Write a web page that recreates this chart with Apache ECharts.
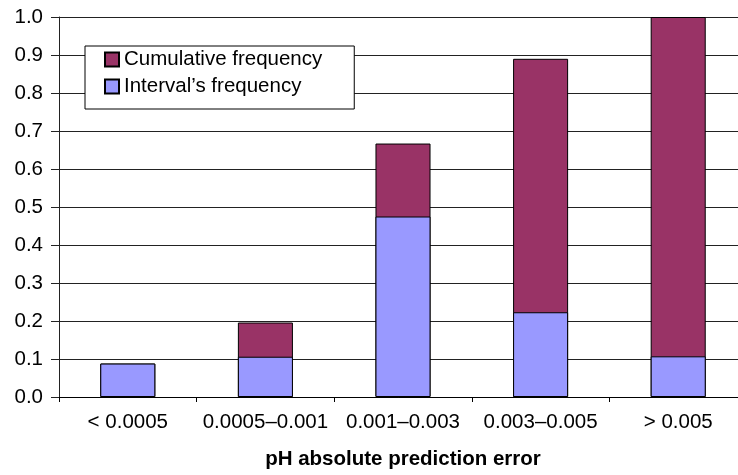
<!DOCTYPE html>
<html><head><meta charset="utf-8">
<script src="https://cdn.jsdelivr.net/npm/echarts@6/dist/echarts.min.js"></script>
<style>html,body{margin:0;padding:0;background:#fff}#c{width:738px;height:475px}</style>
</head><body><div id="c"></div>
<script>
const categories = ['< 0.0005', '0.0005\u20130.001', '0.001\u20130.003', '0.003\u20130.005', '> 0.005'];
const cumulativeFreq = [0.088, 0.196, 0.667, 0.890, 1.0];
const intervalFreq = [0.088, 0.106, 0.475, 0.223, 0.107];
const yTicks = [0, 0.1, 0.2, 0.3, 0.4, 0.5, 0.6, 0.7, 0.8, 0.9, 1.0];
const seriesNames = ['Cumulative frequency', "Interval\u2019s frequency"];
const xTitle = 'pH absolute prediction error';

const font = 'Liberation Sans, Arial, Helvetica, sans-serif';
const chart = echarts.init(document.getElementById('c'), null, {renderer: 'canvas'});
chart.setOption({
  animation: false,
  backgroundColor: '#fff',
  textStyle: {fontFamily: font},
  grid: {left: 59, top: 17, height: 380, width: 688, outerBoundsMode: 'none', containLabel: false},
  legend: {
    orient: 'vertical', left: 85, top: 46,
    data: seriesNames,
    backgroundColor: '#fff', borderColor: '#000', borderWidth: 1,
    padding: [3, 32, 12, 19], itemGap: 6,
    itemWidth: 14, itemHeight: 14, icon: 'rect',
    textStyle: {fontSize: 20.5, color: '#000', fontFamily: font}
  },
  xAxis: {
    type: 'category', data: categories,
    name: xTitle, nameLocation: 'middle', nameGap: 52,
    nameTextStyle: {fontSize: 20.5, fontWeight: 'bold', color: '#000', fontFamily: font},
    axisLine: {lineStyle: {color: '#000', width: 1}},
    axisTick: {show: true, length: 5, lineStyle: {color: '#000'}},
    axisLabel: {fontSize: 20.5, color: '#000', margin: 15, interval: 0, fontFamily: font},
    splitLine: {show: false}
  },
  yAxis: {
    type: 'value', min: 0, max: 1, interval: 0.1,
    axisLine: {show: true, lineStyle: {color: '#222', width: 1}},
    axisTick: {show: true, length: 8, lineStyle: {color: '#222'}},
    axisLabel: {fontSize: 20.5, color: '#000', margin: 16, fontFamily: font,
      formatter: v => { const t = yTicks.find(x => Math.abs(x - v) < 1e-9); return (t !== undefined ? t : v).toFixed(1); }},
    splitLine: {show: true, lineStyle: {color: '#222', width: 1}}
  },
  series: [
    {name: seriesNames[0], type: 'bar', data: cumulativeFreq, barWidth: '40%', barGap: '-100%',
      itemStyle: {color: '#993366', borderColor: '#000', borderWidth: 1}},
    {name: seriesNames[1], type: 'bar', data: intervalFreq, barWidth: '40%', barGap: '-100%',
      itemStyle: {color: '#9999FF', borderColor: '#000', borderWidth: 1}}
  ]
});
</script></body></html>
